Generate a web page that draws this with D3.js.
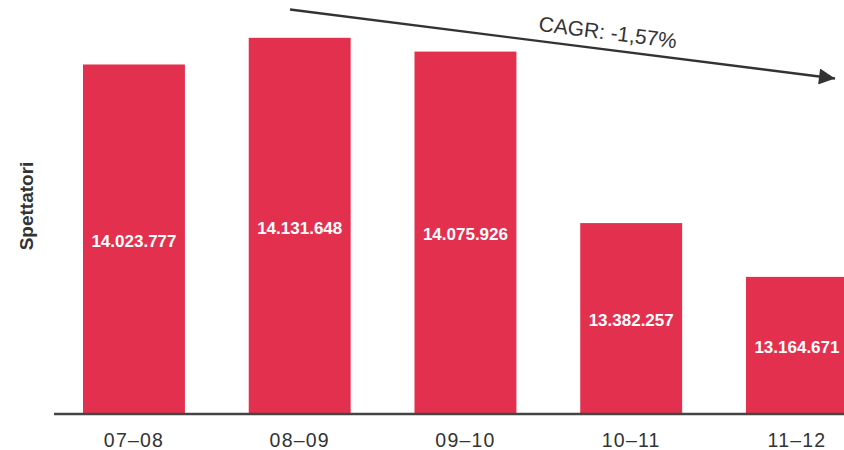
<!DOCTYPE html>
<html>
<head>
<meta charset="utf-8">
<script src="https://cdn.jsdelivr.net/npm/d3@7"></script>
<style>
  html, body { margin: 0; padding: 0; background: #fff; }
  svg { display: block; font-family: "Liberation Sans", Arial, Helvetica, sans-serif; }
</style>
</head>
<body>
<svg id="chart" width="844" height="450"></svg>
<script>
// Spettatori per stagione
const seasons = ["07–08", "08–09", "09–10", "10–11", "11–12"];
const spectators = [14023777, 14131648, 14075926, 13382257, 13164671];
const valueLabels = ["14.023.777", "14.131.648", "14.075.926", "13.382.257", "13.164.671"];
const trendLabel = "CAGR: -1,57%";
const yTitle = "Spettatori";

const W = 844, H = 450;
const baseline = 414;
const svg = d3.select("#chart");

const x = d3.scaleBand()
  .domain(seasons)
  .range([51.5, 879.4])
  .paddingInner(0.385)
  .paddingOuter(0.19);

const y = d3.scaleLinear()
  .domain([12610000, 14230000])
  .range([baseline, 13.5]);

const barColor = "#e3304e";
const ink = "#333";

// bars
svg.append("g").selectAll("rect")
  .data(spectators)
  .join("rect")
  .attr("x", (d, i) => x(seasons[i]))
  .attr("y", d => y(d))
  .attr("width", x.bandwidth())
  .attr("height", d => baseline - y(d))
  .attr("fill", barColor);

// value labels, centred in each bar
svg.append("g").selectAll("text")
  .data(spectators)
  .join("text")
  .attr("x", (d, i) => x(seasons[i]) + x.bandwidth() / 2)
  .attr("y", d => (y(d) + baseline) / 2)
  .attr("dy", "0.45em")
  .attr("text-anchor", "middle")
  .attr("fill", "#fff")
  .attr("font-weight", "bold")
  .attr("font-size", 17)
  .text((d, i) => valueLabels[i]);

// x axis
const xAxis = svg.append("g")
  .attr("transform", `translate(0,${baseline})`)
  .call(d3.axisBottom(x).tickSize(0).tickPadding(19));
xAxis.select(".domain").remove();
xAxis.append("line")
  .attr("x1", 54).attr("x2", W)
  .attr("y1", 0).attr("y2", 0)
  .attr("stroke", "#444")
  .attr("stroke-width", 2.6);
xAxis.selectAll(".tick text")
  .attr("font-size", 19.5)
  .attr("letter-spacing", 1.2)
  .attr("fill", ink)
  .attr("font-family", "'Liberation Sans', Arial, sans-serif");

// y title
svg.append("text")
  .attr("transform", "translate(33,206) rotate(-90)")
  .attr("text-anchor", "middle")
  .attr("font-size", 19)
  .attr("font-weight", "bold")
  .attr("fill", ink)
  .text(yTitle);

// trend arrow
const a0 = [290, 9.5], a1 = [835, 78.5];
svg.append("defs").append("marker")
  .attr("id", "head")
  .attr("viewBox", "0 0 10 10")
  .attr("refX", 10).attr("refY", 5)
  .attr("markerWidth", 17).attr("markerHeight", 16)
  .attr("markerUnits", "userSpaceOnUse")
  .attr("orient", "auto")
  .append("path").attr("d", "M0,0 L10,5 L0,10 Z").attr("fill", ink);
svg.append("line")
  .attr("x1", a0[0]).attr("y1", a0[1])
  .attr("x2", a1[0]).attr("y2", a1[1])
  .attr("stroke", ink)
  .attr("stroke-width", 2.4)
  .attr("marker-end", "url(#head)");

const angle = Math.atan2(a1[1] - a0[1], a1[0] - a0[0]) * 180 / Math.PI;
svg.append("text")
  .attr("transform", `translate(607,39.5) rotate(${angle})`)
  .attr("text-anchor", "middle")
  .attr("font-size", 21)
  .attr("fill", ink)
  .text(trendLabel);
</script>
</body>
</html>
